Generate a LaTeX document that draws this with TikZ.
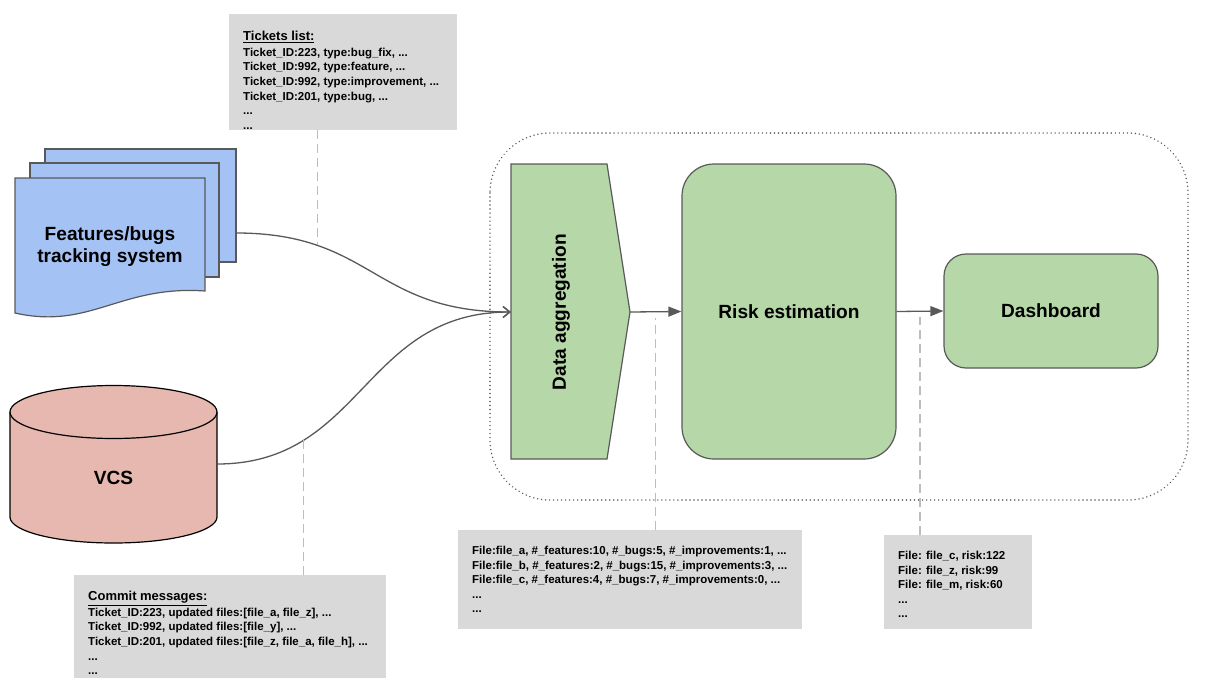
\documentclass[tikz,border=0pt]{standalone}
\usepackage{fontspec}
\setmainfont{Liberation Sans}
\usetikzlibrary{arrows.meta}
\definecolor{TrackerBlue}{HTML}{A4C2F4}
\definecolor{VcsRose}{HTML}{E6B8AF}
\definecolor{StageGreen}{HTML}{B6D7A8}
\definecolor{NoteGray}{HTML}{D9D9D9}
\definecolor{EdgeGray}{HTML}{595959}
\definecolor{GuideGray}{HTML}{BDBDBD}

\begin{document}
\begin{tikzpicture}[x=1pt, y=-1pt,
    notebox/.style={fill=NoteGray, draw=none, inner sep=0pt, anchor=north west},
    notetext/.style={anchor=north west, inner sep=0pt, align=left, font=\fontsize{11.5}{14.6}\selectfont\bfseries},
    bigtext/.style={font=\fontsize{19.1}{22}\selectfont\bfseries},
    stagebox/.style={fill=StageGreen, draw=EdgeGray, line width=1.2pt},
    flow/.style={draw=EdgeGray, line width=1.3pt},
    guide/.style={draw=GuideGray, line width=1.5pt, dash pattern=on 9pt off 5pt}]
            \useasboundingbox (0,0) rectangle (1205,688);

            % Pipeline frame
            \draw[draw=EdgeGray, line width=1.6pt, dash pattern=on 0.01pt off 4pt, line cap=round, rounded corners=60pt] (490,133) rectangle (1188,500);

            % Tracker document stack
            \draw[fill=TrackerBlue, draw=EdgeGray, line width=1.2pt] (45,149) rectangle (236,262);
            \draw[fill=TrackerBlue, draw=EdgeGray, line width=1.2pt] (30,163) rectangle (219,277);
            \draw[fill=TrackerBlue, draw=EdgeGray, line width=1.2pt] (15,178) -- (205,178) -- (205,291) .. controls (120,285) and (90,330) .. (15,313) -- cycle;
            \node[bigtext, align=center] (tracker) at (110,247) {Features/bugs\\tracking system};
            \coordinate (trackout) at (236,233);

            % VCS cylinder
            \filldraw[fill=VcsRose, draw=black, line width=1.2pt] (10,412) -- (10,517) arc[start angle=180, end angle=0, x radius=103.5, y radius=26] -- (217,412);
            \filldraw[fill=VcsRose, draw=black, line width=1.2pt] (113.5,412) ellipse[x radius=103.5, y radius=26.5];
            \node[bigtext] (vcs) at (113.5,478) {VCS};
            \coordinate (vcsout) at (217,464);

            % Stages
            \draw[stagebox] (511,164) -- (607,164) -- (630,312) -- (607,459) -- (511,459) -- cycle;
            \node[bigtext, rotate=90] (agg) at (561,312) {Data aggregation};
            \coordinate (aggin) at (511,312);
            \coordinate (aggout) at (630,312);
            \node[stagebox, bigtext, rounded corners=32pt, minimum width=214pt, minimum height=295pt] (risk) at (789,311.5) {Risk estimation};
            \node[stagebox, bigtext, rounded corners=22pt, minimum width=214pt, minimum height=114pt] (dash) at (1051,311) {Dashboard};

            % Notes
            \node[notebox, minimum width=228pt, minimum height=116pt] (tickets) at (229,14) {};
            \node[notetext] (ticketstext) at (243,31) {{\fontsize{13}{14.6}\selectfont\underline{Tickets list:}}\\[1pt]
                Ticket\_ID:223, type:bug\_fix, ...\\
                Ticket\_ID:992, type:feature, ...\\
                Ticket\_ID:992, type:improvement, ...\\
                Ticket\_ID:201, type:bug, ...\\
                ...\\
                ...};
            \node[notebox, minimum width=312pt, minimum height=103pt] (commits) at (74,575) {};
            \node[notetext] (commitstext) at (88,591) {{\fontsize{13}{14.6}\selectfont\underline{Commit messages:}}\\[1pt]
                Ticket\_ID:223, updated files:[file\_a, file\_z], ...\\
                Ticket\_ID:992, updated files:[file\_y], ...\\
                Ticket\_ID:201, updated files:[file\_z, file\_a, file\_h], ...\\
                ...\\
                ...};
            \node[notebox, minimum width=344pt, minimum height=99pt] (filestats) at (458,530) {};
            \node[notetext] (filestatstext) at (472,546) {File:file\_a, \#\_features:10, \#\_bugs:5, \#\_improvements:1, ...\\
                File:file\_b, \#\_features:2, \#\_bugs:15, \#\_improvements:3, ...\\
                File:file\_c, \#\_features:4, \#\_bugs:7, \#\_improvements:0, ...\\
                ...\\
                ...};
            \node[notebox, minimum width=148pt, minimum height=94pt] (risklist) at (884,535) {};
            \node[notetext] (risklisttext) at (898,551) {File: file\_c, risk:122\\
                File: file\_z, risk:99\\
                File: file\_m, risk:60\\
                ...\\
                ...};

            % Connectors
            \draw[flow, -{Straight Barb[length=7pt, width=11pt]}] (trackout) .. controls (373,233) and (373,312) .. (aggin) coordinate[pos=0.25] (tickjoin);
            \draw[flow, -{Straight Barb[length=7pt, width=11pt]}] (vcsout) .. controls (363,464) and (363,312) .. (aggin) coordinate[pos=0.25] (vcsjoin);
            \draw[flow, -{Triangle[length=13pt, width=10pt]}] (aggout) -- (risk.west) coordinate[pos=0.5] (aggmid);
            \draw[flow, -{Triangle[length=13pt, width=10pt]}] (risk.east) -- (dash.west) coordinate[pos=0.5] (riskmid);

            % Guides to notes
            \draw[guide] (tickets.south -| tickjoin) -- (tickjoin);
            \draw[guide] (commits.north -| vcsjoin) -- (vcsjoin);
            \draw[guide] (filestats.north -| aggmid) -- ([yshift=-6pt]aggmid);
            \draw[guide] (risklist.north -| riskmid) -- ([yshift=-6pt]riskmid);
        \end{tikzpicture}
\end{document}
